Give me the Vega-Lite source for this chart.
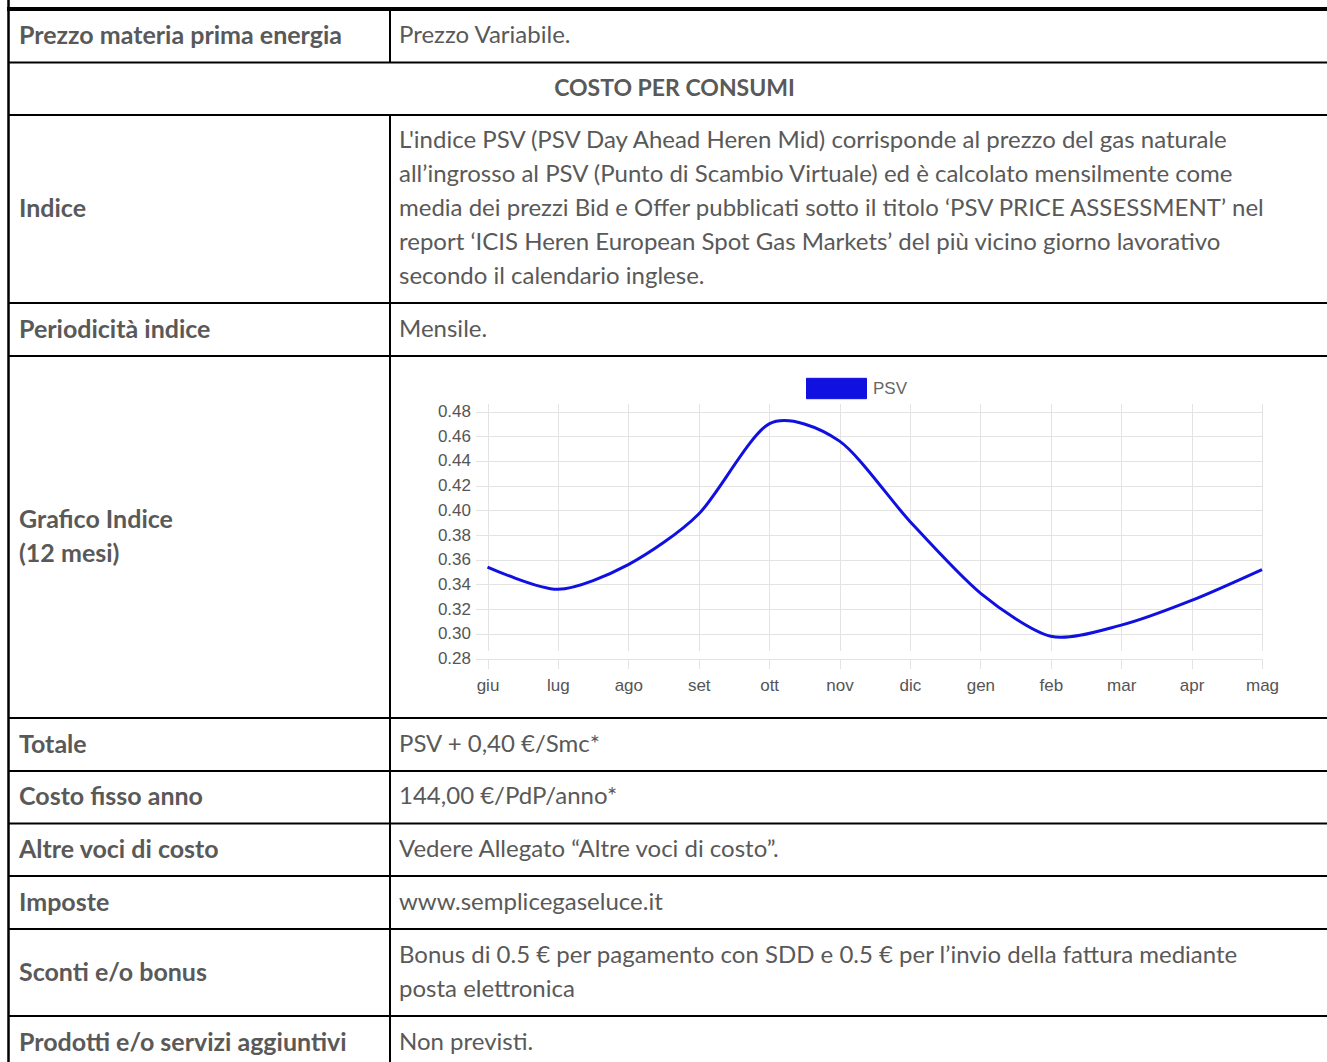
{
  "$schema": "https://vega.github.io/schema/vega-lite/v6.json",
  "width": 1327,
  "height": 1062,
  "autosize": "none",
  "padding": 0,
  "background": "white",
  "config": {"view": {"stroke": null}},
  "datasets": {
    "rows": [
      {"r": 0, "label": "Prezzo materia prima energia", "value": "Prezzo Variabile."},
      {"r": 1, "header": "COSTO PER CONSUMI"},
      {"r": 2, "label": "Indice", "value": "L'indice PSV (PSV Day Ahead Heren Mid) corrisponde al prezzo del gas naturale\nall’ingrosso al PSV (Punto di Scambio Virtuale) ed è calcolato mensilmente come\nmedia dei prezzi Bid e Offer pubblicati sotto il titolo ‘PSV PRICE ASSESSMENT’ nel\nreport ‘ICIS Heren European Spot Gas Markets’ del più vicino giorno lavorativo\nsecondo il calendario inglese."},
      {"r": 3, "label": "Periodicità indice", "value": "Mensile."},
      {"r": 4, "label": "Grafico Indice\n(12 mesi)", "value": ""},
      {"r": 5, "label": "Totale", "value": "PSV + 0,40 €/Smc*"},
      {"r": 6, "label": "Costo fisso anno", "value": "144,00 €/PdP/anno*"},
      {"r": 7, "label": "Altre voci di costo", "value": "Vedere Allegato “Altre voci di costo”."},
      {"r": 8, "label": "Imposte", "value": "www.semplicegaseluce.it"},
      {"r": 9, "label": "Sconti e/o bonus", "value": "Bonus di 0.5 € per pagamento con SDD e 0.5 € per l’invio della fattura mediante\nposta elettronica"},
      {"r": 10, "label": "Prodotti e/o servizi aggiuntivi", "value": "Non previsti."}
    ],
    "psv": [
      {"month": "giu", "psv": 0.354},
      {"month": "lug", "psv": 0.336},
      {"month": "ago", "psv": 0.356},
      {"month": "set", "psv": 0.397},
      {"month": "ott", "psv": 0.470},
      {"month": "nov", "psv": 0.456},
      {"month": "dic", "psv": 0.391},
      {"month": "gen", "psv": 0.333},
      {"month": "feb", "psv": 0.298},
      {"month": "mar", "psv": 0.307},
      {"month": "apr", "psv": 0.327},
      {"month": "mag", "psv": 0.352}
    ]
  },
  "layer": [
    {
      "data": {"name": "rows"},
      "transform": [{"filter": "datum.r > 0"}],
      "mark": {"type": "rule", "color": "black", "strokeWidth": 2},
      "encoding": {
        "y": {"field": "r", "type": "quantitative", "axis": null,
              "scale": {"domain": [-1, 0, 1, 2, 3, 4, 5, 6, 7, 8, 9, 10, 11], "range": [-50, 9, 62.5, 115, 303, 356, 718, 771, 823.5, 876, 929, 1016, 1069], "nice": false, "zero": false}},
        "x": {"datum": 0, "type": "quantitative", "axis": null,
              "scale": {"domain": [0, 1, 2], "range": [9, 390, 1340], "nice": false, "zero": false}},
        "x2": {"datum": 2}
      }
    },
    {
      "data": {"name": "rows"},
      "transform": [{"filter": "datum.r == 0"}],
      "mark": {"type": "rule", "color": "black", "strokeWidth": 4},
      "encoding": {
        "y": {"field": "r", "type": "quantitative", "axis": null,
              "scale": {"domain": [-1, 0, 1, 2, 3, 4, 5, 6, 7, 8, 9, 10, 11], "range": [-50, 9, 62.5, 115, 303, 356, 718, 771, 823.5, 876, 929, 1016, 1069], "nice": false, "zero": false}},
        "x": {"datum": 0, "type": "quantitative", "axis": null,
              "scale": {"domain": [0, 1, 2], "range": [7, 390, 1340], "nice": false, "zero": false}},
        "x2": {"datum": 2}
      }
    },
    {
      "data": {"name": "rows"},
      "transform": [{"filter": "datum.r == 0"}],
      "mark": {"type": "rule", "color": "black", "strokeWidth": 2.5},
      "encoding": {
        "x": {"datum": 0, "type": "quantitative", "axis": null,
              "scale": {"domain": [0, 1, 2], "range": [8.5, 390, 1340], "nice": false, "zero": false}},
        "y": {"datum": -1, "type": "quantitative", "axis": null,
              "scale": {"domain": [-1, 0, 1, 2, 3, 4, 5, 6, 7, 8, 9, 10, 11], "range": [-50, 9, 62.5, 115, 303, 356, 718, 771, 823.5, 876, 929, 1016, 1069], "nice": false, "zero": false}},
        "y2": {"datum": 11}
      }
    },
    {
      "data": {"values": [{"from": 0, "to": 1}, {"from": 2, "to": 11}]},
      "mark": {"type": "rule", "color": "black", "strokeWidth": 2},
      "encoding": {
        "x": {"datum": 1, "type": "quantitative", "axis": null,
              "scale": {"domain": [0, 1, 2], "range": [9, 390, 1340], "nice": false, "zero": false}},
        "y": {"field": "from", "type": "quantitative", "axis": null,
              "scale": {"domain": [-1, 0, 1, 2, 3, 4, 5, 6, 7, 8, 9, 10, 11], "range": [-50, 9, 62.5, 115, 303, 356, 718, 771, 823.5, 876, 929, 1016, 1069], "nice": false, "zero": false}},
        "y2": {"field": "to"}
      }
    },
    {
      "data": {"name": "rows"},
      "transform": [{"filter": "datum.label != null"}],
      "mark": {"type": "text", "align": "left", "baseline": "middle", "font": "Lato", "fontWeight": "bold", "fontSize": 25, "color": "#595959", "lineBreak": "\n", "lineHeight": 34},
      "encoding": {
        "x": {"datum": 0, "type": "quantitative", "axis": null,
              "scale": {"domain": [0, 1], "range": [19, 399], "nice": false, "zero": false}},
        "y": {"field": "r", "type": "quantitative", "axis": null,
              "scale": {"domain": [0, 1, 2, 3, 4, 5, 6, 7, 8, 9, 10], "range": [35.75, 88.75, 209, 329.5, 520, 744.5, 797.25, 849.75, 902.5, 972.5, 1042.5], "nice": false, "zero": false}},
        "text": {"field": "label", "type": "nominal"}
      }
    },
    {
      "data": {"name": "rows"},
      "transform": [{"filter": "datum.label != null"}],
      "mark": {"type": "text", "align": "left", "baseline": "middle", "font": "Lato", "fontSize": 24, "color": "#595959", "lineBreak": "\n", "lineHeight": 34},
      "encoding": {
        "x": {"datum": 1, "type": "quantitative", "axis": null,
              "scale": {"domain": [0, 1], "range": [19, 399], "nice": false, "zero": false}},
        "y": {"field": "r", "type": "quantitative", "axis": null,
              "scale": {"domain": [0, 1, 2, 3, 4, 5, 6, 7, 8, 9, 10], "range": [35.75, 88.75, 141, 329.5, 537, 744.5, 797.25, 849.75, 902.5, 955.5, 1042.5], "nice": false, "zero": false}},
        "text": {"field": "value", "type": "nominal"}
      }
    },
    {
      "data": {"name": "rows"},
      "transform": [{"filter": "datum.header != null"}],
      "mark": {"type": "text", "align": "center", "baseline": "middle", "font": "Lato", "fontWeight": "bold", "fontSize": 23, "color": "#595959"},
      "encoding": {
        "x": {"datum": 1, "type": "quantitative", "axis": null,
              "scale": {"domain": [0, 2], "range": [9, 1340], "nice": false, "zero": false}},
        "y": {"field": "r", "type": "quantitative", "axis": null,
              "scale": {"domain": [0, 1, 2, 3, 4, 5, 6, 7, 8, 9, 10], "range": [35.75, 88.75, 209, 329.5, 537, 744.5, 797.25, 849.75, 902.5, 972.5, 1042.5], "nice": false, "zero": false}},
        "text": {"field": "header", "type": "nominal"}
      }
    },
    {
      "data": {"name": "psv"},
      "mark": {"type": "line", "interpolate": "cardinal", "tension": 0.2, "strokeWidth": 3},
      "encoding": {
        "x": {"field": "month", "type": "nominal", "sort": null,
              "scale": {"type": "point", "domain": ["giu", "lug", "ago", "set", "ott", "nov", "dic", "gen", "feb", "mar", "apr", "mag"], "range": [487.5, 1262], "padding": 0},
              "axis": {"orient": "bottom", "offset": -403.5, "title": null, "labelAngle": 0, "grid": true, "gridColor": "#e3e3e3", "gridWidth": 1, "domain": false, "tickColor": "#e3e3e3", "tickSize": 10, "labelFont": "Liberation Sans", "labelFontSize": 17, "labelColor": "#555555", "labelPadding": 9}},
        "y": {"field": "psv", "type": "quantitative",
              "scale": {"domain": [0.28, 0.48], "range": [658.5, 411.5], "nice": false, "zero": false},
              "axis": {"orient": "left", "offset": -487.5, "title": null, "values": [0.28, 0.30, 0.32, 0.34, 0.36, 0.38, 0.40, 0.42, 0.44, 0.46, 0.48], "format": ".2f", "grid": true, "gridColor": "#e3e3e3", "gridWidth": 1, "domain": false, "tickColor": "#e3e3e3", "tickSize": 12, "labelFont": "Liberation Sans", "labelFontSize": 17, "labelColor": "#555555", "labelPadding": 5}},
        "color": {"datum": "PSV", "type": "nominal",
                  "scale": {"range": ["#1010e0"]},
                  "legend": {"orient": "none", "legendX": 806, "legendY": 358, "title": null, "padding": 0, "symbolType": "M-1,-0.34H1V0.34H-1Z", "symbolSize": 3600, "symbolStrokeWidth": 1, "labelFont": "Liberation Sans", "labelFontSize": 17, "labelColor": "#666666", "labelOffset": 6,
                             "encode": {"symbols": {"update": {"fill": {"value": "#1010e0"}, "stroke": {"value": "#7070f0"}, "opacity": {"value": 1}}}}}}
      }
    }
  ],
  "resolve": {
    "scale": {"x": "independent", "y": "independent", "color": "independent"},
    "axis": {"x": "independent", "y": "independent"}
  }
}
